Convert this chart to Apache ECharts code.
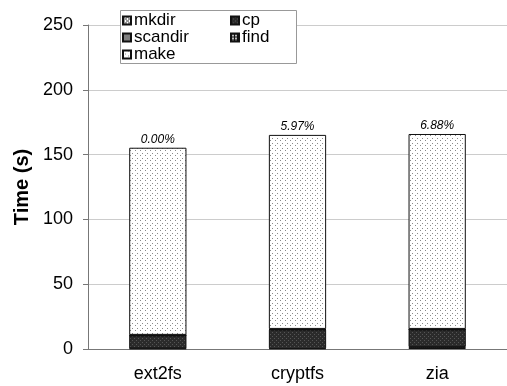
<!DOCTYPE html>
<html>
<head>
<meta charset="utf-8">
<script src="https://cdn.jsdelivr.net/npm/echarts@6/dist/echarts.min.js"></script>
<style>
  html, body { margin: 0; padding: 0; background: #fff; }
  #main { width: 507px; height: 386px; }
</style>
</head>
<body>
<div id="main"></div>
<script>
var categories = ['ext2fs', 'cryptfs', 'zia']
var mkdirData = [0.4, 0.5, 1.5]
var cpData = [10.0, 14.5, 13.5]
var scandirData = [0.2, 0.2, 0.2]
var findData = [0.3, 0.3, 0.3]
var makeData = [144.4, 149.7, 150.4]
var overhead = ['0.00%', '5.97%', '6.88%']
var yTicks = [0, 50, 100, 150, 200, 250]

// small canvas fills that look like the print patterns
function pattern(size, bg, fg, dots) {
  var c = document.createElement('canvas')
  c.width = size
  c.height = size
  var ctx = c.getContext('2d')
  ctx.fillStyle = bg
  ctx.fillRect(0, 0, size, size)
  ctx.fillStyle = fg
  dots.forEach(function (d) { ctx.fillRect(d[0], d[1], d[2] || 1, d[3] || 1) })
  return { image: c, repeat: 'repeat' }
}

var fills = {
  mkdir: pattern(4, '#ffffff', '#333333', [[0, 0], [1, 1], [2, 2], [3, 3], [3, 1], [1, 3]]),
  cp: pattern(4, '#2b2b2b', '#555555', [[0, 0], [2, 2]]),
  scandir: pattern(2, '#cccccc', '#333333', [[0, 0], [1, 1]]),
  find: pattern(3, '#bbbbbb', '#111111', [[0, 0, 3, 1], [0, 0, 1, 3]]),
  make: pattern(5, '#ffffff', '#8a8a8a', [[0, 0], [2, 3]])
}

function bar(name, data) {
  return {
    name: name,
    type: 'bar',
    stack: 'total',
    barWidth: '41%',
    data: data,
    itemStyle: { color: fills[name], borderColor: '#111', borderWidth: 1 }
  }
}

var series = [
  bar('mkdir', mkdirData),
  bar('cp', cpData),
  bar('scandir', scandirData),
  bar('find', findData),
  bar('make', makeData)
]
series[4].label = {
  show: true,
  position: 'top',
  distance: 2,
  formatter: function (p) { return overhead[p.dataIndex] },
  fontFamily: 'Liberation Sans',
  fontStyle: 'italic',
  fontSize: 12,
  color: '#000'
}

function legendCol(left, names) {
  return {
    orient: 'vertical',
    left: left,
    top: 12,
    padding: 0,
    data: names,
    itemWidth: 8,
    itemHeight: 8,
    itemGap: 0,
    icon: 'rect',
    textStyle: { fontSize: 17, lineHeight: 17, color: '#000', padding: [0, 0, 0, -2] },
    z: 10
  }
}

var chart = echarts.init(document.getElementById('main'))
chart.setOption({
  animation: false,
  backgroundColor: '#fff',
  textStyle: { fontFamily: 'Liberation Sans' },
  grid: { left: 88, right: -1, top: 25, bottom: 37 },
  graphic: [{
    type: 'rect',
    shape: { x: 120.5, y: 10.5, width: 176, height: 53 },
    style: { fill: '#fff', stroke: '#999', lineWidth: 1 },
    z: 9
  }],
  legend: [
    legendCol(122, ['mkdir', 'scandir', 'make']),
    legendCol(230, ['cp', 'find'])
  ],
  xAxis: {
    type: 'category',
    data: categories,
    axisLine: { lineStyle: { color: '#777' } },
    axisTick: { length: 6, lineStyle: { color: '#777' } },
    axisLabel: { fontSize: 18, color: '#000', margin: 16 }
  },
  yAxis: {
    type: 'value',
    min: yTicks[0],
    max: yTicks[yTicks.length - 1],
    interval: 50,
    name: 'Time (s)',
    nameLocation: 'middle',
    nameGap: 56,
    nameTextStyle: { fontSize: 20, fontWeight: 'bold', color: '#000' },
    axisLine: { show: true, lineStyle: { color: '#777' } },
    axisTick: { show: true, length: 5, lineStyle: { color: '#777' } },
    axisLabel: { fontSize: 18, color: '#000', margin: 15 },
    splitLine: { lineStyle: { color: '#cccccc' } }
  },
  series: series
})
</script>
</body>
</html>
